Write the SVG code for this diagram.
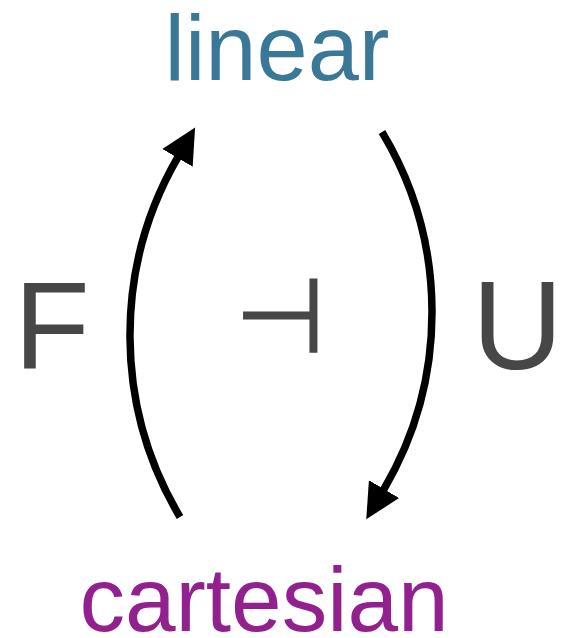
<svg xmlns="http://www.w3.org/2000/svg" width="570" height="638" viewBox="0 0 570 638">
  <style>
    .lbl { font-family: "Liberation Sans", Arial, Helvetica, sans-serif; }
    .gray { fill: #474747; }
    .arc { fill: none; stroke: #000; stroke-width: 7.5; stroke-linecap: butt; }
  </style>
  <defs>
    <marker id="head" markerUnits="userSpaceOnUse" markerWidth="40" markerHeight="40" viewBox="0 -20 40 40" refX="1" refY="0" orient="auto">
      <path d="M0,-17.5 L35,0 L0,17.5 Z" fill="#000"/>
    </marker>
  </defs>
  <rect width="570" height="638" fill="#fff"/>
  <g id="linear">
    <text class="lbl" x="277" y="80" font-size="92" text-anchor="middle" fill="#3a7898">linear</text>
  </g>
  <g id="cartesian">
    <text class="lbl" x="264" y="631" font-size="91" text-anchor="middle" fill="#92208f">cartesian</text>
  </g>
  <g id="F">
    <text class="lbl gray" x="14" y="369" font-size="124">F</text>
  </g>
  <g id="U">
    <text class="lbl gray" x="517.5" y="369" font-size="126" text-anchor="middle">U</text>
  </g>
  <g id="adjoint">
    <text x="280" y="352" font-family="DejaVu Sans, sans-serif" font-size="104" text-anchor="middle" class="gray" stroke="#474747" stroke-width="1.5">⊣</text>
  </g>
  <g id="connectors">
    <path class="arc" d="M180,517 A355,355 0 0 1 178,157" marker-end="url(#head)"/>
    <path class="arc" d="M382,132 A350,350 0 0 1 383.5,490" marker-end="url(#head)"/>
  </g>
</svg>
